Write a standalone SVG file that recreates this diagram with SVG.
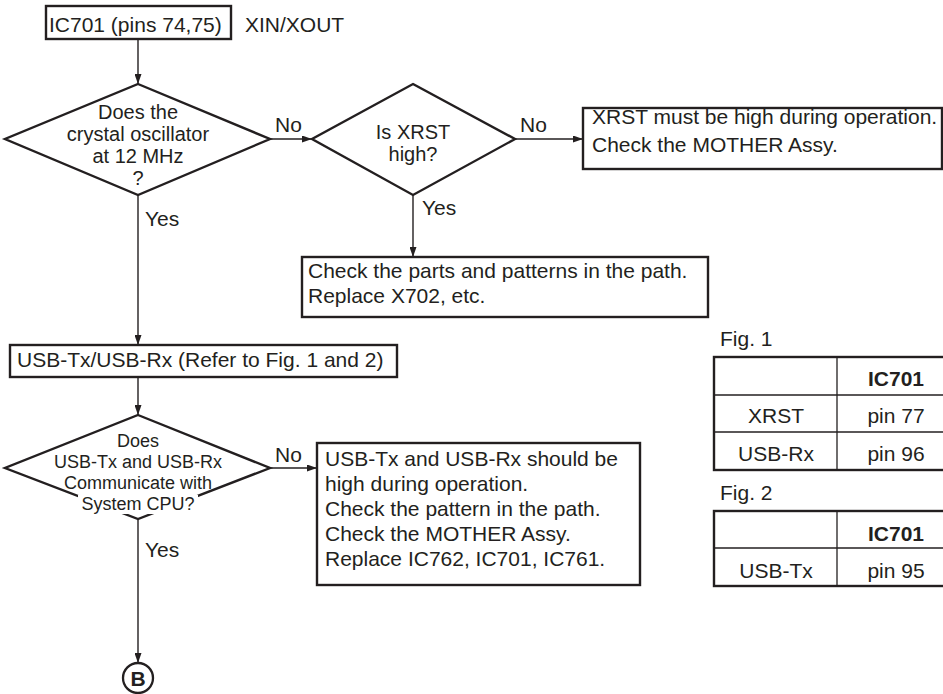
<svg xmlns="http://www.w3.org/2000/svg" width="943" height="694" viewBox="0 0 943 694">
<style>
text{font-family:"Liberation Sans",Arial,Helvetica,sans-serif;font-size:21px;fill:#231f20}
.box{fill:#fff;stroke:#231f20;stroke-width:2.4}
.dia{fill:#fff;stroke:#231f20;stroke-width:2.4;stroke-linejoin:miter}
.con{fill:none;stroke:#231f20;stroke-width:1.4}
.thin{stroke:#231f20;stroke-width:1.3;fill:none}
.mid{text-anchor:middle}
.sm{font-size:18px}
.dt{font-size:20px}
.mask{fill:#fff;stroke:none}
.b{font-weight:bold}
</style>
<defs>
<marker id="ah" markerWidth="10" markerHeight="7" refX="10" refY="3.5" orient="auto" markerUnits="userSpaceOnUse">
<path d="M0,0 L10,3.5 L0,7 z" fill="#231f20"/>
</marker>
</defs>

<g id="connectors">
<line class="con" x1="138" y1="39" x2="138" y2="84" marker-end="url(#ah)"/>
<line class="con" x1="270" y1="139" x2="312" y2="139" marker-end="url(#ah)"/>
<line class="con" x1="515" y1="139" x2="583" y2="139" marker-end="url(#ah)"/>
<line class="con" x1="413" y1="195" x2="413" y2="257" marker-end="url(#ah)"/>
<line class="con" x1="138" y1="195" x2="138" y2="345" marker-end="url(#ah)"/>
<line class="con" x1="138" y1="377" x2="138" y2="415" marker-end="url(#ah)"/>
<line class="con" x1="270" y1="468" x2="317" y2="468" marker-end="url(#ah)"/>
<line class="con" x1="138" y1="519" x2="138" y2="663" marker-end="url(#ah)"/>
<text x="275" y="132">No</text>
<text x="520" y="132">No</text>
<text x="145" y="226">Yes</text>
<text x="422" y="215">Yes</text>
<text x="275" y="462">No</text>
<text x="145" y="557">Yes</text>
</g>

<g id="start">
<rect class="box" x="46" y="6" width="185" height="33"/>
<text x="49" y="32">IC701 (pins 74,75)</text>
<text x="245" y="32">XIN/XOUT</text>
</g>

<g id="d1">
<polygon class="dia" points="138,84 270,139 138,195 5,139"/>
<text class="mid dt" x="138" y="119">Does the</text>
<text class="mid dt" x="138" y="141">crystal oscillator</text>
<text class="mid dt" x="138" y="163">at 12 MHz</text>
<text class="mid dt" x="138" y="185">?</text>
</g>

<g id="d2">
<polygon class="dia" points="413,84 515,139 413,195 312,139"/>
<text class="mid dt" x="413" y="139">Is XRST</text>
<text class="mid dt" x="413" y="161">high?</text>
</g>

<g id="b_xrst">
<rect class="box" x="583" y="108" width="359" height="61"/>
<text x="592" y="124">XRST must be high during operation.</text>
<text x="592" y="152">Check the MOTHER Assy.</text>
</g>

<g id="b_parts">
<rect class="box" x="302" y="257" width="406" height="60"/>
<text x="308" y="278">Check the parts and patterns in the path.</text>
<text x="308" y="303">Replace X702, etc.</text>
</g>

<g id="b_usb">
<rect class="box" x="10" y="345" width="387" height="32"/>
<text x="17" y="367">USB-Tx/USB-Rx (Refer to Fig. 1 and 2)</text>
</g>

<g id="d3">
<polygon class="dia" points="138,415 270,468 138,519 5,468"/>
<rect class="mask" x="52" y="454" width="172" height="17"/>
<rect class="mask" x="78" y="495" width="120" height="19"/>
<text class="mid sm" x="138" y="447">Does</text>
<text class="mid sm" x="138" y="468">USB-Tx and USB-Rx</text>
<text class="mid sm" x="138" y="489">Communicate with</text>
<text class="mid sm" x="138" y="510">System CPU?</text>
</g>

<g id="b_usbfail">
<rect class="box" x="317" y="443" width="323" height="142"/>
<text x="325" y="466">USB-Tx and USB-Rx should be</text>
<text x="325" y="491">high during operation.</text>
<text x="325" y="516">Check the pattern in the path.</text>
<text x="325" y="541">Check the MOTHER Assy.</text>
<text x="325" y="566">Replace IC762, IC701, IC761.</text>
</g>

<g id="endB">
<circle cx="138" cy="678" r="15" fill="#fff" stroke="#231f20" stroke-width="2.3"/>
<text class="mid b" x="138" y="686">B</text>
</g>

<g id="fig1">
<text x="720" y="346">Fig. 1</text>
<rect class="box" x="714" y="357" width="242" height="113"/>
<line class="thin" x1="714" y1="395" x2="956" y2="395"/>
<line class="thin" x1="714" y1="432" x2="956" y2="432"/>
<line class="thin" x1="837" y1="357" x2="837" y2="470"/>
<text class="mid b" x="896" y="386">IC701</text>
<text class="mid" x="776" y="423">XRST</text>
<text class="mid" x="896" y="423">pin 77</text>
<text class="mid" x="776" y="461">USB-Rx</text>
<text class="mid" x="896" y="461">pin 96</text>
</g>

<g id="fig2">
<text x="720" y="500">Fig. 2</text>
<rect class="box" x="714" y="511" width="242" height="75"/>
<line class="thin" x1="714" y1="548" x2="956" y2="548"/>
<line class="thin" x1="837" y1="511" x2="837" y2="586"/>
<text class="mid b" x="896" y="541">IC701</text>
<text class="mid" x="776" y="578">USB-Tx</text>
<text class="mid" x="896" y="578">pin 95</text>
</g>
</svg>
